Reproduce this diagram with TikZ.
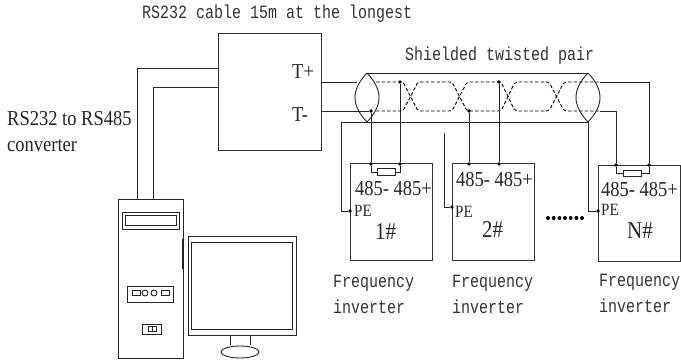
\documentclass[tikz,border=0pt]{standalone}
\usepackage{fontspec}
\setmainfont{Liberation Serif}
\setmonofont{Liberation Mono}
\newcommand{\tallmono}[1]{\scalebox{1}[1.25]{#1}}
\newcommand{\tallser}[1]{\scalebox{1}[1.15]{#1}}
\tikzset{
  wire/.style={draw=black!85,line width=0.9pt},
  pairwire/.style={wire,draw=black,dash pattern=on 3.5pt off 2pt,rounded corners=2pt},
  boxnode/.style={draw=black!80,line width=1pt,anchor=north west,inner sep=0pt,outer sep=0pt},
  dotnode/.style={circle,fill=black,inner sep=0pt,minimum size=3.8pt},
  resnode/.style={draw=black!85,line width=0.9pt,inner sep=0pt,minimum width=18pt,minimum height=6.5pt},
  monolabel/.style={font=\ttfamily\fontsize{15}{26}\selectfont,text=black!80,inner sep=0pt,anchor=base west},
  invlabel/.style={monolabel,align=left,anchor=north west},
  serlabel/.style={font=\fontsize{18.5}{26}\selectfont,text=black!85,inner sep=0pt,anchor=base west},
  pelabel/.style={font=\fontsize{15}{15}\selectfont,text=black!85,inner sep=0pt,anchor=base west},
  numlabel/.style={font=\fontsize{21}{21}\selectfont,text=black!85,inner sep=0pt,anchor=base west}
}
\begin{document}
\begin{tikzpicture}[x=1pt,y=-1pt]
\useasboundingbox (0,0) rectangle (681,363);

\node[monolabel] (cablelabel) at (142,19) {\tallmono{RS232 cable 15m at the longest}};
\node[monolabel] (pairlabel) at (405,61) {\tallmono{Shielded twisted pair}};
\node[serlabel] (convlabela) at (7,126) {\tallser{RS232 to RS485}};
\node[serlabel] (convlabelb) at (7,152) {\tallser{converter}};

\node[boxnode,minimum width=103pt,minimum height=117pt] (conv) at (218,34) {};
\node[serlabel] (tplus) at (292,79) {\tallser{T+}};
\node[serlabel] (tminus) at (292,122) {\tallser{T-}};

\node[boxnode,minimum width=82pt,minimum height=97pt] (inva) at (350,164) {};
\node[boxnode,minimum width=82pt,minimum height=97pt] (invb) at (452,164) {};
\node[boxnode,minimum width=82pt,minimum height=96pt] (invn) at (598,166) {};

\node[serlabel] (porta) at (355,196) {\tallser{485- 485+}};
\node[serlabel] (portb) at (456,187) {\tallser{485- 485+}};
\node[serlabel] (portn) at (601,197) {\tallser{485- 485+}};
\node[pelabel] (pelabela) at (354,217) {\tallser{PE}};
\node[pelabel] (pelabelb) at (455,218) {\tallser{PE}};
\node[pelabel] (pelabeln) at (601,216) {\tallser{PE}};
\node[numlabel] (numa) at (375,240) {\tallser{1\#}};
\node[numlabel] (numb) at (482,238) {\tallser{2\#}};
\node[numlabel] (numn) at (627,239) {\tallser{N\#}};

\node[invlabel] (freqa) at (333,274.7) {\tallmono{Frequency}\\\tallmono{inverter}};
\node[invlabel] (freqb) at (452,274.7) {\tallmono{Frequency}\\\tallmono{inverter}};
\node[invlabel] (freqn) at (599,273.7) {\tallmono{Frequency}\\\tallmono{inverter}};

\foreach \dx in {548,553.7,559.4,565,570.7,576.4,582}
  \fill (\dx,218) circle (2pt);

\coordinate (rsa) at (218,68);
\coordinate (rsb) at (218,87);
\coordinate (pca) at (137,199);
\coordinate (pcb) at (153,199);
\draw[wire] (rsa) -| (pca);
\draw[wire] (rsb) -| (pcb);

\coordinate (ltop) at (367,73);
\coordinate (lbot) at (367,122);
\coordinate (rtop) at (588,73);
\coordinate (rbot) at (588,122);
\draw[wire] (ltop) .. controls (351,90) and (351,105) .. (lbot);
\draw[wire] (ltop) .. controls (383,90) and (383,105) .. (lbot);
\draw[wire] (rtop) .. controls (572,90) and (572,105) .. (rbot);
\draw[wire] (rtop) .. controls (604,90) and (604,105) .. (rbot);
\draw[wire] (ltop) -- (rtop);

\node[dotnode] (uppera) at (400,82) {};
\node[dotnode] (lowera) at (371,111) {};
\node[dotnode] (upperb) at (499,82) {};
\node[dotnode] (lowerb) at (469,111) {};
\coordinate (tpa) at (321,82);
\coordinate (tpb) at (357,82);
\coordinate (tma) at (321,111);
\draw[wire] (tpa) -- (tpb);
\draw[wire] (tma) -- (lowera);

\draw[pairwire] (376,82) -- (403,82) -- (418,111) -- (452,111) -- (467,82) -- (501,82) -- (515,111) -- (549,111) -- (564,82) -- (600,82);
\draw[pairwire] (376,111) -- (403,111) -- (418,82) -- (452,82) -- (467,111) -- (501,111) -- (515,82) -- (549,82) -- (564,111) -- (600,111);

\node[dotnode] (dotaa) at (371,164) {};
\node[dotnode] (dotab) at (400,164) {};
\node[dotnode] (dotba) at (469,164) {};
\node[dotnode] (dotbb) at (499,164) {};
\node[dotnode] (dotna) at (616,165) {};
\node[dotnode] (dotnb) at (649,165) {};
\draw[wire] (lowera) -- (dotaa);
\draw[wire] (uppera) -- (dotab);
\draw[wire] (lowerb) -- (dotba);
\draw[wire] (upperb) -- (dotbb);

\coordinate (outa) at (600,82);
\coordinate (outb) at (600,111);
\draw[wire] (outa) -| (dotnb);
\draw[wire] (outb) -| (dotna);

\node[resnode] (resa) at (386,172) {};
\node[resnode] (resn) at (632,173.5) {};
\draw[wire] (dotaa) |- (resa.west);
\draw[wire] (dotab) |- (resa.east);
\draw[wire] (dotna) |- (resn.west);
\draw[wire] (dotnb) |- (resn.east);

\node[dotnode] (pea) at (350,211) {};
\node[dotnode] (peb) at (452,207) {};
\node[dotnode] (pen) at (598,211) {};
\coordinate (shield) at (341,122);
\coordinate (stub) at (444,133);
\draw[wire] (pea) -| (shield);
\draw[wire] (shield) -- (rbot);
\draw[wire] (rbot) |- (pen);
\draw[wire] (peb) -| (stub);

\draw[wire] (118,199) rectangle (183,358);
\draw[wire,line width=1.6pt] (183,239) -- (183,269);
\draw[wire] (122,212) rectangle (179,229);
\draw[wire] (125,215) rectangle (176,225);
\draw[wire] (127,286) rectangle (173,302);
\draw[wire] (132,290) rectangle (140,295);
\draw[wire] (145,293) circle (3pt);
\draw[wire] (154,293) circle (3pt);
\draw[wire] (161,290) rectangle (169,295);
\draw[wire] (142,324) rectangle (161,334);
\draw[wire] (148,326) rectangle (156,331);
\draw[wire] (152,326) -- (152,331);

\draw[wire] (188,236) rectangle (296,335);
\draw[wire] (191,242) rectangle (292,329);
\draw[wire] (230,335) -- (230,345);
\draw[wire] (250,335) -- (250,345);
\draw[wire] (240,352) ellipse (19pt and 6pt);
\end{tikzpicture}
\end{document}
